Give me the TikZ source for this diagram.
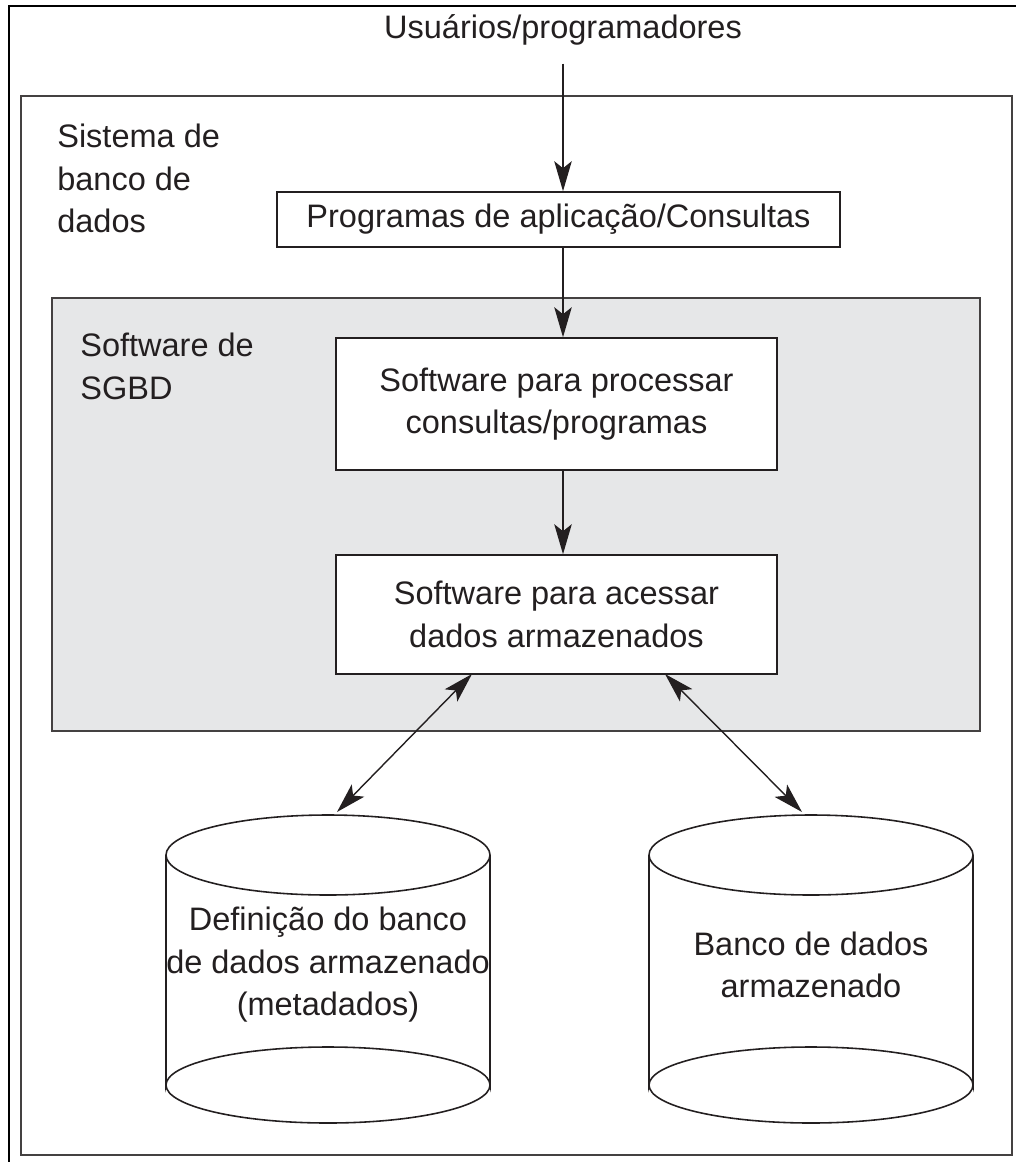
\documentclass[tikz,border=0pt]{standalone}
\usepackage{fontspec}
\setmainfont{Liberation Sans}
\usepackage{xcolor}
\usetikzlibrary{positioning,calc,arrows.meta}
\definecolor{sgbdgray}{HTML}{E6E7E8}
\definecolor{ink}{HTML}{231F20}

\begin{document}
\begin{tikzpicture}[x=0.02cm,y=-0.02cm,
    font=\fontsize{18.5}{24.2}\selectfont,
    txt/.style={text=ink, align=center, inner sep=0pt},
    block/.style={rectangle, draw=ink, fill=white, line width=0.9pt, txt},
    arr/.style={-{Stealth[length=6mm,width=3.5mm,inset=1.4mm]}, draw=ink, line width=0.8pt},
    darr/.style={{Stealth[length=6mm,width=3.5mm,inset=1.4mm]}-{Stealth[length=6mm,width=3.5mm,inset=1.4mm]}, draw=ink, line width=0.8pt}]
    \useasboundingbox (0,0) rectangle (1016,1162);
    % frames
    \draw[line width=1.1pt] (9,1162) -- (9,6) -- (1016,6);
    \draw[draw=ink!85, line width=1.1pt] (21,96) rectangle (1012,1155);
    \draw[draw=ink!85, fill=sgbdgray, line width=1pt] (52,298) rectangle (980,731);
    % labels
    \node[txt] (usr) at (563,30) {Usuários/programadores};
    \node[txt, align=left, anchor=north west] (sys) at (57,124) {Sistema de\\banco de\\dados};
    \node[txt, align=left, anchor=north west] (sgbd) at (80,333) {Software de\\SGBD};
    % blocks
    \node[block, minimum width=11.26cm, minimum height=1.1cm] (app) at (558.5,219.5) {Programas de aplicação/Consultas};
    \node[block, minimum width=8.82cm, minimum height=2.64cm] (proc) at (556.5,404) {Software para processar\\consultas/programas};
    \node[block, minimum width=8.82cm, minimum height=2.38cm] (acc) at (556.5,614.5) {Software para acessar\\dados armazenados};
    % cylinders
    \foreach \cx/\nm in {328/meta, 811/db} {
        \draw[draw=ink, line width=0.9pt, fill=white] (\cx-162,855) -- (\cx-162,1085) arc[start angle=180, end angle=360, x radius=162, y radius=38] -- (\cx+162,855);
        \draw[draw=ink, line width=0.9pt] (\cx-162,1085) arc[start angle=180, end angle=0, x radius=162, y radius=38];
        \draw[draw=ink, line width=0.9pt, fill=white] (\cx,855) ellipse[x radius=162, y radius=40];
        \coordinate (\nm top) at (\cx,815);
    }
    \node[txt] (meta) at (328,965) {Definição do banco\\de dados armazenado\\(metadados)};
    \node[txt] (db) at (811,965) {Banco de dados\\armazenado};
    % connectors
    \coordinate (accL) at (472,674);
    \coordinate (accR) at (665,674);
    \draw[arr] ([yshift=-0.36cm]usr.south) -- (app.north -| usr);
    \draw[arr] (app.south -| usr) -- (proc.north -| usr);
    \draw[arr] (proc.south -| usr) -- (acc.north -| usr);
    \draw[darr] (accL) -- ($(metatop)+(9,-3)$);
    \draw[darr] (accR) -- ($(dbtop)+(-9,-3)$);
\end{tikzpicture}
\end{document}
